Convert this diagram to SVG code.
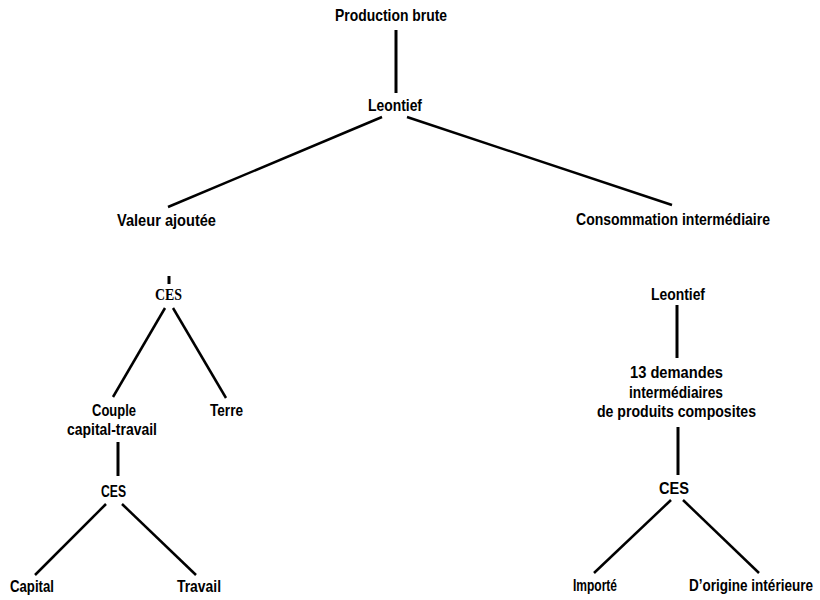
<svg xmlns="http://www.w3.org/2000/svg" width="820" height="600" viewBox="0 0 820 600">
<style>
.t{font-family:"Liberation Sans",Arial,sans-serif;font-weight:bold;font-size:16.5px;fill:#000}
.m{font-family:"Liberation Serif","Times New Roman",serif;font-weight:bold;font-size:16px;fill:#000}
.c line{stroke:#000;stroke-width:2.5;stroke-linecap:butt}
.c .v{stroke-width:3}
</style>
<rect width="820" height="600" fill="#fff"/>
<g class="c" id="connectors">
<line class="v" x1="396" y1="30" x2="396" y2="93"/>
<line x1="382" y1="117" x2="168" y2="207"/>
<line x1="407" y1="117" x2="672" y2="205"/>
<line class="v" x1="169" y1="276" x2="169" y2="284"/>
<line x1="165" y1="308" x2="113" y2="397"/>
<line x1="173" y1="308" x2="226" y2="398"/>
<line class="v" x1="118" y1="442" x2="118" y2="476"/>
<line x1="106" y1="504" x2="35" y2="575"/>
<line x1="122" y1="504" x2="196" y2="575"/>
<line class="v" x1="677" y1="305" x2="677" y2="358"/>
<line class="v" x1="678" y1="427" x2="678" y2="475"/>
<line x1="671" y1="500" x2="594" y2="573"/>
<line x1="683" y1="500" x2="759" y2="573"/>
</g>
<g id="n-production"><text class="t" x="335" y="21" textLength="112" lengthAdjust="spacingAndGlyphs">Production brute</text></g>
<g id="n-leontief1"><text class="t" x="368" y="111" textLength="54" lengthAdjust="spacingAndGlyphs">Leontief</text></g>
<g id="n-valeur"><text class="t" x="117" y="226" textLength="99" lengthAdjust="spacingAndGlyphs">Valeur ajoutée</text></g>
<g id="n-consommation"><text class="t" x="576" y="225" textLength="194" lengthAdjust="spacingAndGlyphs">Consommation intermédiaire</text></g>
<g id="n-ces1"><text class="m" x="155" y="300" textLength="27" lengthAdjust="spacingAndGlyphs">CES</text></g>
<g id="n-couple"><text class="t" x="92" y="416" textLength="44" lengthAdjust="spacingAndGlyphs">Couple</text><text class="t" x="67" y="435" textLength="90" lengthAdjust="spacingAndGlyphs">capital-travail</text></g>
<g id="n-terre"><text class="t" x="210" y="416" textLength="33" lengthAdjust="spacingAndGlyphs">Terre</text></g>
<g id="n-ces2"><text class="t" x="101" y="497" textLength="25" lengthAdjust="spacingAndGlyphs">CES</text></g>
<g id="n-capital"><text class="t" x="10" y="592" textLength="44" lengthAdjust="spacingAndGlyphs">Capital</text></g>
<g id="n-travail"><text class="t" x="177" y="592" textLength="44" lengthAdjust="spacingAndGlyphs">Travail</text></g>
<g id="n-leontief2"><text class="t" x="651" y="300" textLength="54" lengthAdjust="spacingAndGlyphs">Leontief</text></g>
<g id="n-demandes"><text class="t" x="630" y="378" textLength="93" lengthAdjust="spacingAndGlyphs">13 demandes</text><text class="t" x="629" y="398" textLength="94" lengthAdjust="spacingAndGlyphs">intermédiaires</text><text class="t" x="597" y="417" textLength="159" lengthAdjust="spacingAndGlyphs">de produits composites</text></g>
<g id="n-ces3"><text class="t" x="659" y="494" textLength="30" lengthAdjust="spacingAndGlyphs">CES</text></g>
<g id="n-importe"><text class="t" x="573" y="591" textLength="44" lengthAdjust="spacingAndGlyphs">Importé</text></g>
<g id="n-interieure"><text class="t" transform="translate(689 591) scale(0.82 1)" x="0" y="0">D’origine intérieure</text></g>
</svg>
